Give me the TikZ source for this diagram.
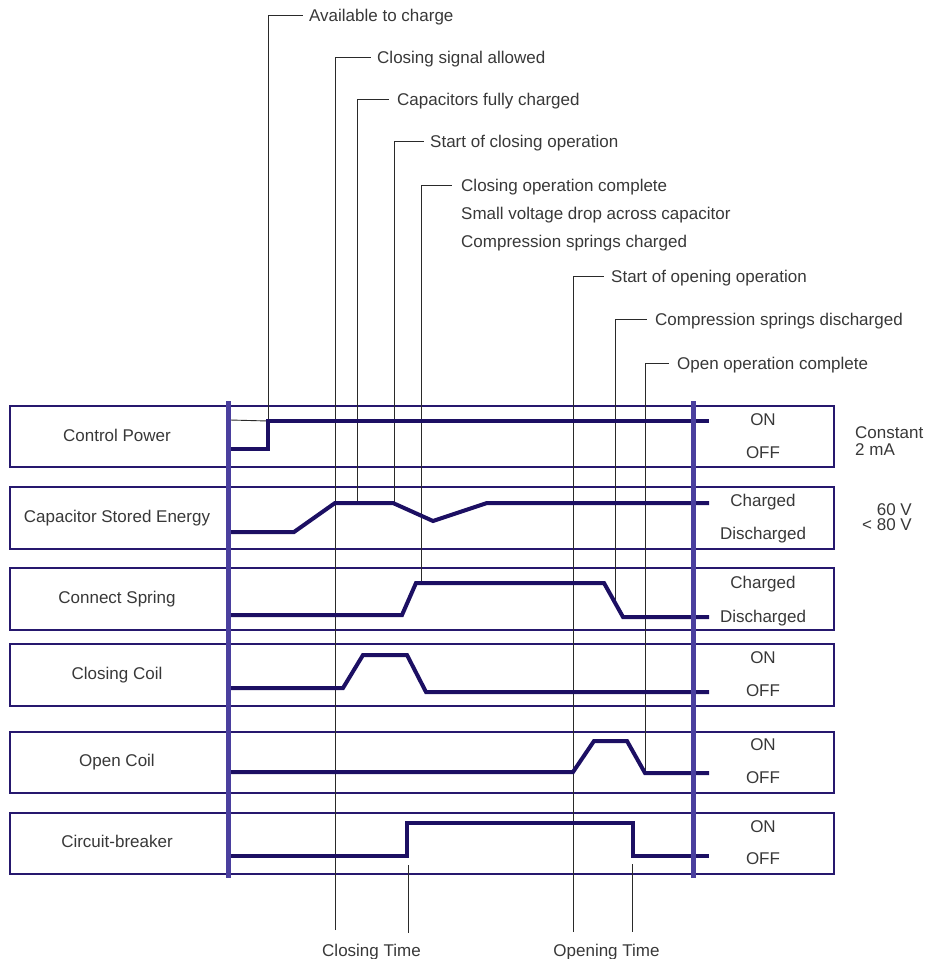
\documentclass[tikz,border=0pt]{standalone}
\usepackage{fontspec}
\setmainfont{Liberation Sans}
\usetikzlibrary{calc}
\definecolor{sigc}{HTML}{1C0F63}
\definecolor{axisc}{HTML}{4A3F9E}
\definecolor{boxc}{HTML}{26186E}
\definecolor{txt}{HTML}{383838}
\definecolor{leadc}{HTML}{2A2A2A}
\begin{document}
\begin{tikzpicture}[x=1pt,y=-1pt,
  lbl/.style={font=\fontsize{17}{17}\selectfont, text=txt, inner sep=0pt, text height=12pt, text depth=0pt},
  rowbox/.style={draw=boxc, line width=1.6pt},
  sig/.style={draw=sigc, line width=4pt, line join=miter},
  axisline/.style={draw=axisc, line width=5pt},
  lead/.style={draw=leadc, line width=0.9pt}]
\useasboundingbox (0,0) rectangle (925,959);

% row boxes
\draw[rowbox] (10,406) rectangle (834,467);
\draw[rowbox] (10,487) rectangle (834,549);
\draw[rowbox] (10,568) rectangle (834,630);
\draw[rowbox] (10,644) rectangle (834,706);
\draw[rowbox] (10,732) rectangle (834,793);
\draw[rowbox] (10,813) rectangle (834,874);

% row labels (left)
\node[lbl, anchor=base] (lcp) at (117,441) {Control Power};
\node[lbl, anchor=base] (lce) at (117,522) {Capacitor Stored Energy};
\node[lbl, anchor=base] (lcs) at (117,603) {Connect Spring};
\node[lbl, anchor=base] (lcc) at (117,679) {Closing Coil};
\node[lbl, anchor=base] (loc) at (117,766) {Open Coil};
\node[lbl, anchor=base] (lcb) at (117,847) {Circuit-breaker};

% state labels (right)
\node[lbl, anchor=base] (s1a) at (763,425) {ON};
\node[lbl, anchor=base] (s1b) at (763,458) {OFF};
\node[lbl, anchor=base] (s2a) at (763,506) {Charged};
\node[lbl, anchor=base] (s2b) at (763,539) {Discharged};
\node[lbl, anchor=base] (s3a) at (763,588) {Charged};
\node[lbl, anchor=base] (s3b) at (763,622) {Discharged};
\node[lbl, anchor=base] (s4a) at (763,663) {ON};
\node[lbl, anchor=base] (s4b) at (763,696) {OFF};
\node[lbl, anchor=base] (s5a) at (763,750) {ON};
\node[lbl, anchor=base] (s5b) at (763,783) {OFF};
\node[lbl, anchor=base] (s6a) at (763,832) {ON};
\node[lbl, anchor=base] (s6b) at (763,864) {OFF};

% side notes
\node[lbl, anchor=base west] (n1) at (855,438) {Constant};
\node[lbl, anchor=base west] (n2) at (855,455) {2 mA};
\node[lbl, anchor=base east] (n3) at (912,515) {60 V};
\node[lbl, anchor=base east] (n4) at (912,530) {< 80 V};

% event labels (top)
\node[lbl, anchor=west] (t1) at (309,15) {Available to charge};
\node[lbl, anchor=west] (t2) at (377,57) {Closing signal allowed};
\node[lbl, anchor=west] (t3) at (397,99) {Capacitors fully charged};
\node[lbl, anchor=west] (t4) at (430,141) {Start of closing operation};
\node[lbl, anchor=west] (t5) at (461,185) {Closing operation complete};
\node[lbl, anchor=west] (t5b) at (461,213) {Small voltage drop across capacitor};
\node[lbl, anchor=west] (t5c) at (461,241) {Compression springs charged};
\node[lbl, anchor=west] (t6) at (611,276) {Start of opening operation};
\node[lbl, anchor=west] (t7) at (655,319) {Compression springs discharged};
\node[lbl, anchor=west] (t8) at (677,363) {Open operation complete};

% bottom labels
\node[lbl, anchor=base] (bct) at (371.5,956) {Closing Time};
\node[lbl, anchor=base] (bot) at (606.5,956) {Opening Time};

% signal points
\coordinate (cpA) at (268,449);
\coordinate (cpB) at (268,421);
\coordinate (ceA) at (294,532);
\coordinate (ceB) at (335,503);
\coordinate (ceC) at (357,503);
\coordinate (ceD) at (393,503);
\coordinate (ceE) at (433,521);
\coordinate (ceF) at (487,503);
\coordinate (csA) at (402,615);
\coordinate (csB) at (416,583);
\coordinate (csC) at (604,583);
\coordinate (csD) at (623,617);
\coordinate (ccA) at (343,688);
\coordinate (ccB) at (363,655);
\coordinate (ccC) at (407,655);
\coordinate (ccD) at (426,692);
\coordinate (ocA) at (573,772);
\coordinate (ocB) at (594,741);
\coordinate (ocC) at (627,741);
\coordinate (ocD) at (645,773);
\coordinate (cbA) at (407,856);
\coordinate (cbB) at (407,823);
\coordinate (cbC) at (633,823);
\coordinate (cbD) at (633,856);
% leader ends
\coordinate (e2) at (335,930);
\coordinate (e6) at (573,932);
\coordinate (e9a) at (408,865);
\coordinate (e9b) at (408,933);
\coordinate (e10a) at (632,864);
\coordinate (e10b) at (632,932);
\coordinate (axL) at (230,420);

% leader lines
\draw[lead] (cpB) |- ([xshift=-6pt]t1.west);
\draw[lead] (axL) -- (cpB);
\draw[lead] (e2) |- ([xshift=-6pt]t2.west);
\draw[lead] (ceC) |- ([xshift=-8pt]t3.west);
\draw[lead] ($(ceD)+(1,0)$) |- ([xshift=-6pt]t4.west);
\draw[lead] (421,583) |- ([xshift=-9pt]t5.west);
\draw[lead] (e6) |- ([xshift=-7pt]t6.west);
\draw[lead] ($(csC)!0.58!(csD)$) |- ([xshift=-8pt]t7.west);
\draw[lead] (ocD) |- ([xshift=-8pt]t8.west);
\draw[lead] (e9a) -- (e9b);
\draw[lead] (e10a) -- (e10b);

% signals
\draw[sig] (228,449) -- (cpA) -- (cpB) -- (709,421);
\draw[sig] (228,532) -- (ceA) -- (ceB) -- (ceD) -- (ceE) -- (ceF) -- (709,503);
\draw[sig] (228,615) -- (csA) -- (csB) -- (csC) -- (csD) -- (709,617);
\draw[sig] (228,688) -- (ccA) -- (ccB) -- (ccC) -- (ccD) -- (709,692);
\draw[sig] (228,772) -- (ocA) -- (ocB) -- (ocC) -- (ocD) -- (709,773);
\draw[sig] (228,856) -- (cbA) -- (cbB) -- (cbC) -- (cbD) -- (709,856);

% time axes
\draw[axisline] (228,401) -- (228,878);
\draw[axisline] (693,401) -- (693,878);
\end{tikzpicture}
\end{document}
